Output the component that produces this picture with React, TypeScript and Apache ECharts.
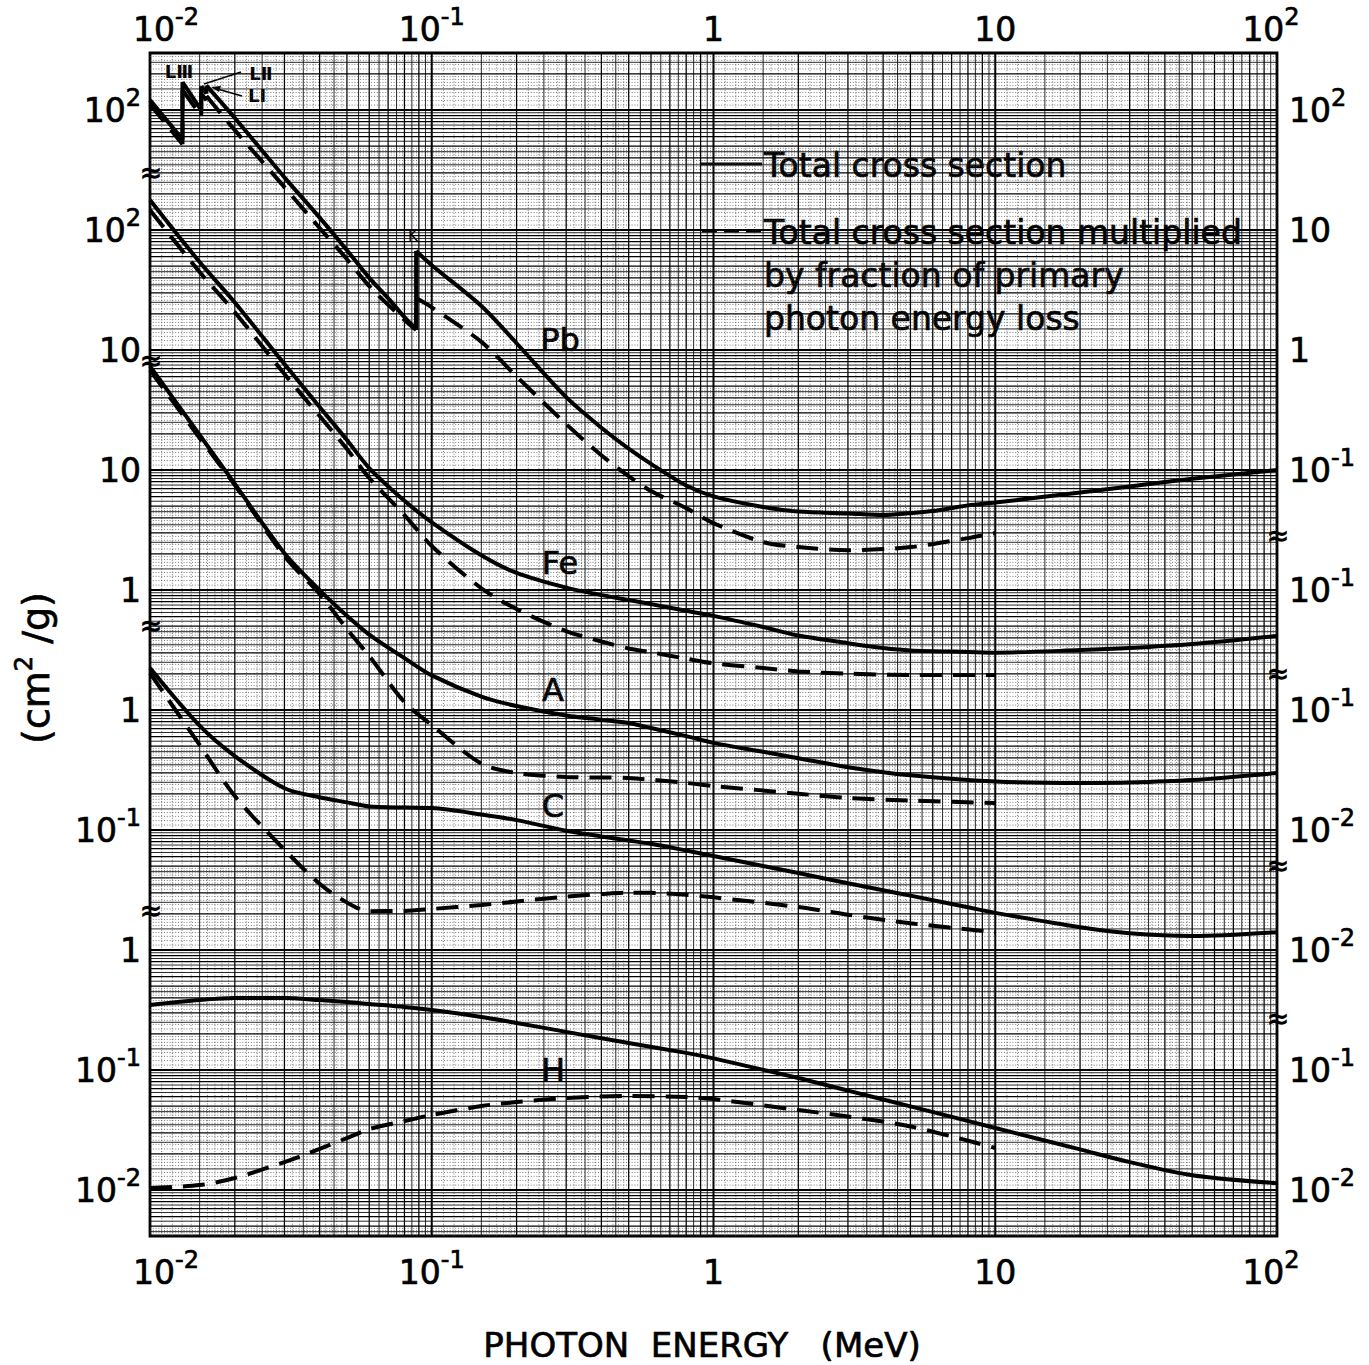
import React, { useEffect, useRef } from 'react';
import * as echarts from 'echarts';

type Pt = [number, number];

// Total cross section (cm²/g) against photon energy (MeV).
// A repeated energy marks an absorption edge (value below, then above).
const pbTotal: Pt[] = [
  [0.01, 121], [0.01304, 57], [0.01304, 171], [0.0152, 100], [0.0152, 158],
  [0.01586, 137], [0.01586, 160], [0.02, 86], [0.03, 27.5], [0.04, 12.7],
  [0.05, 6.8], [0.06, 4.0], [0.07, 2.71], [0.08, 1.88], [0.088, 1.5], [0.088, 6.7],
  [0.1, 5.1], [0.15, 2.33], [0.2, 1.14], [0.3, 0.405], [0.4, 0.2255],
  [0.5, 0.151], [0.6, 0.1127], [0.8, 0.0743], [1, 0.0604], [1.5, 0.0492], [2, 0.0451],
  [3, 0.0435], [4, 0.0422], [5, 0.0438], [6, 0.0455], [8, 0.0508], [10, 0.0536],
  [20, 0.065], [30, 0.0731], [50, 0.0845], [100, 0.1],
];
// Total cross section multiplied by the fraction of primary photon energy lost
const pbAbsorbed: Pt[] = [
  [0.01, 112], [0.01304, 52], [0.01304, 147], [0.0152, 89], [0.0152, 136],
  [0.01586, 121], [0.01586, 131], [0.02, 68], [0.03, 22.8], [0.04, 10.4],
  [0.05, 5.72], [0.06, 3.41], [0.08, 1.78], [0.088, 1.47], [0.088, 2.71],
  [0.1, 2.27], [0.15, 1.17], [0.2, 0.603], [0.3, 0.2415], [0.4, 0.133], [0.5, 0.089],
  [0.6, 0.0668], [0.8, 0.0482], [1, 0.0361], [1.5, 0.0251], [2, 0.0228], [3, 0.0215],
  [5, 0.0228], [8, 0.0271], [10, 0.0299],
];

const feTotal: Pt[] = [
  [0.01, 178], [0.015, 54.1], [0.02, 24.9], [0.03, 7.64], [0.04, 3.35], [0.05, 1.78],
  [0.06, 1.04], [0.08, 0.555], [0.1, 0.367], [0.15, 0.195], [0.2, 0.139], [0.3, 0.1047],
  [0.4, 0.0908], [0.5, 0.0826], [0.6, 0.0764], [0.8, 0.0672], [1, 0.0609], [1.5, 0.0492],
  [2, 0.0418], [3, 0.0361], [4, 0.0329], [5, 0.0314], [8, 0.0305], [10, 0.0301],
  [20, 0.0316], [30, 0.0329], [50, 0.0355], [100, 0.0414],
];
const feAbsorbed: Pt[] = [
  [0.01, 146.8], [0.015, 44.7], [0.02, 20.7], [0.03, 6.31], [0.04, 2.82], [0.05, 1.5],
  [0.06, 0.858], [0.08, 0.422], [0.1, 0.233], [0.15, 0.1035], [0.2, 0.0695], [0.3, 0.0455],
  [0.4, 0.0373], [0.5, 0.0326], [0.6, 0.0303], [0.8, 0.0268], [1, 0.0245], [1.5, 0.0224],
  [2, 0.021], [3, 0.0201], [5, 0.0196], [10, 0.0196],
];

const aTotal: Pt[] = [
  [0.01, 73.6], [0.015, 19.6], [0.02, 7.67], [0.03, 2.03], [0.04, 1.0], [0.05, 0.611],
  [0.06, 0.426], [0.08, 0.271], [0.1, 0.1945], [0.15, 0.1294], [0.2, 0.108], [0.3, 0.0902],
  [0.4, 0.083], [0.5, 0.078], [0.6, 0.0708], [0.8, 0.0607], [1, 0.0533], [1.5, 0.0449],
  [2, 0.0397], [3, 0.0334], [5, 0.0286], [10, 0.0254], [20, 0.0247], [30, 0.0249],
  [50, 0.0261], [100, 0.0299],
];
const aAbsorbed: Pt[] = [
  [0.01, 68.1], [0.015, 18.5], [0.02, 7.5], [0.03, 1.92], [0.04, 0.926], [0.05, 0.473],
  [0.06, 0.282], [0.08, 0.1166], [0.1, 0.075], [0.15, 0.0358], [0.2, 0.0299], [0.3, 0.0277],
  [0.5, 0.0271], [0.8, 0.0247], [1, 0.0233], [2, 0.0201], [3, 0.0185], [5, 0.0176],
  [10, 0.0168],
];

const cTotal: Pt[] = [
  [0.01, 2.24], [0.015, 0.741], [0.02, 0.414], [0.03, 0.223], [0.04, 0.1875], [0.05, 0.17],
  [0.06, 0.157], [0.08, 0.154], [0.1, 0.1525], [0.15, 0.135], [0.2, 0.121], [0.3, 0.0986],
  [0.4, 0.0885], [0.5, 0.0818], [0.6, 0.0769], [0.8, 0.0675], [1, 0.0607], [1.5, 0.0501],
  [2, 0.0438], [3, 0.036], [4, 0.0315], [5, 0.0284], [8, 0.0227], [10, 0.0204],
  [20, 0.0155], [30, 0.0138], [50, 0.0131], [100, 0.0141],
];
const cAbsorbed: Pt[] = [
  [0.01, 2.03], [0.015, 0.513], [0.02, 0.192], [0.03, 0.0686], [0.04, 0.0357], [0.05, 0.0249],
  [0.06, 0.0211], [0.08, 0.0212], [0.1, 0.022], [0.15, 0.0237], [0.2, 0.0254], [0.3, 0.0279],
  [0.4, 0.0293], [0.5, 0.0301], [0.6, 0.03], [0.8, 0.0289], [1, 0.0275], [2, 0.0228],
  [3, 0.0197], [5, 0.0167], [10, 0.0141],
];

const hTotal: Pt[] = [
  [0.01, 0.348], [0.015, 0.383], [0.02, 0.398], [0.03, 0.398], [0.04, 0.383], [0.05, 0.369],
  [0.06, 0.355], [0.08, 0.335], [0.1, 0.316], [0.15, 0.277], [0.2, 0.247], [0.3, 0.208],
  [0.5, 0.168], [0.8, 0.139], [1, 0.125], [2, 0.0858], [3, 0.0673], [5, 0.0498],
  [10, 0.0329], [20, 0.0218], [30, 0.0171], [50, 0.0133], [100, 0.0114],
];
const hAbsorbed: Pt[] = [
  [0.01, 0.0104], [0.015, 0.011], [0.02, 0.0126], [0.03, 0.0171], [0.04, 0.022], [0.05, 0.0271],
  [0.06, 0.0322], [0.08, 0.0376], [0.1, 0.0422], [0.15, 0.0501], [0.2, 0.0541], [0.3, 0.0585],
  [0.5, 0.0607], [0.8, 0.0596], [1, 0.0573], [2, 0.0464], [3, 0.041], [5, 0.0339], [10, 0.0224],
];

// Each element sits on its own stacked scale: plotted value = cross section × factor
const SCALE = { Pb: 1e5, Fe: 1e4, A: 1e3, C: 1e2, H: 1 };

// Axis ranges (energy in MeV; vertical axis in stacked-scale units)
const E_MIN = 0.01;
const E_MAX = 100;
const V_MIN = 4.14e-3;
const V_MAX = 2.99e7;

// Tick labels ('a^b' means a with superscript b)
const energyTicks = [0.01, 0.1, 1, 10, 100];
const energyTickLabels = ['10^-2', '10^-1', '1', '10', '10^2'];
const scaleDecades = [1e-2, 1e-1, 1, 10, 100, 1e3, 1e4, 1e5, 1e6, 1e7];
const leftScaleLabels = ['10^-2', '10^-1', '1', '10^-1', '1', '1', '10', '10', '10^2', '10^2'];
const rightScaleLabels = ['10^-2', '10^-1', '10^-2', '10^-2', '10^-1', '10^-1', '10^-1', '1', '10', '10^2'];
// Scale breaks between the stacked element scales
const leftBreaks = [2.99e6, 8.26e4, 510, 2.15];
const rightBreaks = [2870, 203, 5.1, 0.271];

// Horizontal nudge of the energy labels at the two ends of the axis (px)
const ENERGY_LABEL_NUDGE = [16, 0, 0, 0, -6];

const FONT = '"DejaVu Sans", "Liberation Sans", sans-serif';
// a thin outline thickens the lettering a little
const INK = { stroke: '#000', lineWidth: 0.7 };

function toRich(label: string): string {
  const [base, exp] = label.split('^');
  return exp ? `{b|${base}}{s|${exp}}` : `{b|${base}}`;
}

const tickRich = {
  b: { fontFamily: FONT, fontSize: 33, lineHeight: 48, fill: '#000', ...INK, verticalAlign: 'middle' },
  s: { fontFamily: FONT, fontSize: 24, lineHeight: 24, fill: '#000', ...INK, verticalAlign: 'top' },
};

// Log graph paper: mantissa positions within a decade and their line weight
function decadeMarks(): [number, number][] {
  const marks: [number, number][] = [[1, 0]];
  for (let t = 11; t < 20; t++) marks.push([t / 10, t === 15 ? 2 : 3]);
  for (let t = 20; t < 50; t += 2) marks.push([t / 10, t % 10 === 0 ? 1 : 3]);
  marks.push([2.5, 2], [3.5, 2], [4.5, 2]);
  for (let t = 50; t < 100; t += 5) marks.push([t / 10, t % 10 === 0 ? 1 : 2]);
  return marks;
}

function buildPaper(): number[][] {
  const lines: number[][] = [];
  const marks = decadeMarks();
  for (let d = -2; d <= 1; d++) {
    for (const [m, lvl] of marks) {
      const x = m * Math.pow(10, d);
      lines.push([x, V_MIN, x, V_MAX, lvl]);
    }
  }
  lines.push([E_MAX, V_MIN, E_MAX, V_MAX, 0]);
  for (let d = -3; d <= 7; d++) {
    for (const [m, lvl] of marks) {
      const y = m * Math.pow(10, d);
      if (y > V_MIN * 1.0001 && y < V_MAX * 0.9999) lines.push([E_MIN, y, E_MAX, y, lvl]);
    }
  }
  return lines;
}

const paperStyles = [
  { stroke: '#000', lineWidth: 2.0 },
  { stroke: '#000', lineWidth: 1.25 },
  { stroke: '#111', lineWidth: 0.9 },
  { stroke: '#444', lineWidth: 0.7, lineDash: [1, 1.8] },
];

// Split a curve at absorption edges so each smooth run stays monotone in energy
function runs(points: Pt[]): Pt[][] {
  const out: Pt[][] = [];
  let cur: Pt[] = [points[0]];
  for (let i = 1; i < points.length; i++) {
    const p = points[i];
    const q = points[i - 1];
    if (p[0] === q[0]) {
      out.push(cur);
      out.push([q, p]);
      cur = [p];
    } else {
      cur.push(p);
    }
  }
  out.push(cur);
  return out;
}

const curves = [
  { name: 'Pb total', pts: pbTotal, factor: SCALE.Pb, dashed: false },
  { name: 'Pb absorbed', pts: pbAbsorbed, factor: SCALE.Pb, dashed: true },
  { name: 'Fe total', pts: feTotal, factor: SCALE.Fe, dashed: false },
  { name: 'Fe absorbed', pts: feAbsorbed, factor: SCALE.Fe, dashed: true },
  { name: 'A total', pts: aTotal, factor: SCALE.A, dashed: false },
  { name: 'A absorbed', pts: aAbsorbed, factor: SCALE.A, dashed: true },
  { name: 'C total', pts: cTotal, factor: SCALE.C, dashed: false },
  { name: 'C absorbed', pts: cAbsorbed, factor: SCALE.C, dashed: true },
  { name: 'H total', pts: hTotal, factor: SCALE.H, dashed: false },
  { name: 'H absorbed', pts: hAbsorbed, factor: SCALE.H, dashed: true },
];

type AxisText = { value: [number, number]; side: string; text: string; dx: number };

function buildAxisTexts(): AxisText[] {
  const items: AxisText[] = [];
  energyTicks.forEach((e, i) => {
    const dx = ENERGY_LABEL_NUDGE[i];
    items.push({ value: [e, V_MAX], side: 'top', text: energyTickLabels[i], dx });
    items.push({ value: [e, V_MIN], side: 'bottom', text: energyTickLabels[i], dx });
  });
  scaleDecades.forEach((v, i) => {
    items.push({ value: [E_MIN, v], side: 'left', text: leftScaleLabels[i], dx: 0 });
    items.push({ value: [E_MAX, v], side: 'right', text: rightScaleLabels[i], dx: 0 });
  });
  leftBreaks.forEach((v) => items.push({ value: [E_MIN, v], side: 'break', text: '≈', dx: 0 }));
  rightBreaks.forEach((v) => items.push({ value: [E_MAX, v], side: 'break', text: '≈', dx: 0 }));
  return items;
}

function textStyle(text: string, font: string, align = 'left', extra: any = {}) {
  return {
    text,
    font,
    fill: '#000',
    align,
    verticalAlign: 'middle',
    textAlign: align,
    textVerticalAlign: 'middle',
    ...extra,
  };
}

export default function App() {
  const ref = useRef<HTMLDivElement>(null);

  useEffect(() => {
    if (!ref.current) return;
    const chart = echarts.init(ref.current, undefined, { renderer: 'svg' });
    const paper = buildPaper();
    const axisTexts = buildAxisTexts();

    const curveSeries = curves.flatMap((c) =>
      runs(c.pts).map((run, i) => ({
        type: 'line',
        name: c.name,
        id: `${c.name}-${i}`,
        data: run.map(([e, v]) => [e, v * c.factor]),
        symbol: 'none',
        smooth: run.length > 2 ? 0.3 : false,
        silent: true,
        z: 3,
        lineStyle: {
          color: '#000',
          width: 4,
          type: c.dashed ? [22, 11] : 'solid',
        },
      }))
    );

    const legendText = (text: string, y: number) => ({
      type: 'text',
      x: 764,
      y,
      style: textStyle(text, `33px ${FONT}`, 'left', INK),
    });
    const elementLabel = (text: string, x: number, y: number) => ({
      type: 'text',
      x,
      y,
      style: textStyle(text, `32px ${FONT}`, 'center', INK),
    });

    const option: any = {
      animation: false,
      backgroundColor: '#fff',
      grid: {
        left: 150,
        top: 53,
        width: 1127,
        height: 1183,
        show: true,
        borderColor: '#000',
        borderWidth: 2.8,
        backgroundColor: 'transparent',
      },
      xAxis: {
        type: 'log',
        logBase: 10,
        min: E_MIN,
        max: E_MAX,
        axisLine: { show: false },
        axisTick: { show: false },
        axisLabel: { show: false },
        splitLine: { show: false },
      },
      yAxis: {
        type: 'log',
        logBase: 10,
        min: V_MIN,
        max: V_MAX,
        axisLine: { show: false },
        axisTick: { show: false },
        axisLabel: { show: false },
        splitLine: { show: false },
      },
      series: [
        {
          type: 'custom',
          name: 'paper',
          silent: true,
          clip: true,
          z: 1,
          encode: { x: [0, 2], y: [1, 3] },
          data: paper,
          renderItem: (_params: any, api: any) => {
            const a = api.coord([api.value(0), api.value(1)]);
            const b = api.coord([api.value(2), api.value(3)]);
            const s = paperStyles[api.value(4)];
            return {
              type: 'line',
              shape: { x1: a[0], y1: a[1], x2: b[0], y2: b[1] },
              style: { fill: null, ...s },
            };
          },
        },
        ...curveSeries,
        {
          type: 'custom',
          name: 'scale labels',
          silent: true,
          clip: false,
          z: 5,
          data: axisTexts.map((t) => t.value),
          renderItem: (params: any, api: any) => {
            const item = axisTexts[params.dataIndex];
            const p = api.coord(item.value);
            const rich = toRich(item.text);
            if (item.side === 'top' || item.side === 'bottom') {
              return {
                type: 'text',
                x: p[0] + item.dx,
                y: item.side === 'top' ? p[1] - 24 : p[1] + 36,
                style: textStyle(rich, `33px ${FONT}`, 'center', { rich: tickRich }),
              };
            }
            if (item.side === 'left') {
              return {
                type: 'text',
                x: p[0] - 9,
                y: p[1],
                style: textStyle(rich, `33px ${FONT}`, 'right', { rich: tickRich }),
              };
            }
            if (item.side === 'right') {
              return {
                type: 'group',
                children: [
                  {
                    type: 'line',
                    shape: { x1: p[0] - 16, y1: p[1], x2: p[0], y2: p[1] },
                    style: { stroke: '#000', lineWidth: 1.8 },
                  },
                  {
                    type: 'text',
                    x: p[0] + 12,
                    y: p[1],
                    style: textStyle(rich, `33px ${FONT}`, 'left', { rich: tickRich }),
                  },
                ],
              };
            }
            return {
              type: 'text',
              x: p[0] + 1,
              y: p[1],
              style: textStyle('≈', `bold 28px ${FONT}`, 'center'),
            };
          },
        },
      ],
      graphic: {
        elements: [
          // legend
          {
            type: 'line',
            shape: { x1: 700, y1: 164, x2: 762, y2: 164 },
            style: { stroke: '#000', lineWidth: 3.2 },
          },
          legendText('Total cross section', 165),
          {
            type: 'line',
            shape: { x1: 702, y1: 231, x2: 762, y2: 231 },
            style: { stroke: '#000', lineWidth: 3.2, lineDash: [15, 7] },
          },
          legendText('Total cross section multiplied', 232),
          legendText('by fraction of primary', 275),
          legendText('photon energy loss', 318),
          // element labels
          elementLabel('Pb', 560, 340),
          elementLabel('Fe', 560, 563),
          elementLabel('A', 553, 690),
          elementLabel('C', 553, 806),
          elementLabel('H', 553, 1070),
          // absorption edge notes
          { type: 'text', x: 413, y: 236, style: textStyle('K', `15px ${FONT}`, 'center') },
          { type: 'text', x: 179, y: 71, style: textStyle('LⅢ', `bold 18px ${FONT}`, 'center') },
          { type: 'text', x: 261, y: 73, style: textStyle('LⅡ', `bold 18px ${FONT}`, 'center') },
          { type: 'text', x: 257, y: 95, style: textStyle('LⅠ', `bold 18px ${FONT}`, 'center') },
          {
            type: 'line',
            shape: { x1: 204, y1: 84, x2: 241, y2: 72 },
            style: { stroke: '#000', lineWidth: 1.6 },
          },
          {
            type: 'line',
            shape: { x1: 214, y1: 88, x2: 242, y2: 96 },
            style: { stroke: '#000', lineWidth: 1.6 },
          },
          {
            type: 'polygon',
            shape: { points: [[211, 87], [221, 86], [219, 92]] },
            style: { fill: '#000' },
          },
          // axis titles
          {
            type: 'text',
            x: 702,
            y: 1345,
            style: textStyle('PHOTON  ENERGY   (MeV)', `34px ${FONT}`, 'center', INK),
          },
          {
            type: 'text',
            x: 36,
            y: 668,
            rotation: Math.PI / 2,
            style: textStyle('{b|(cm}{s|2}{b| /g)}', `38px ${FONT}`, 'center', {
              rich: {
                b: { fontFamily: FONT, fontSize: 38, lineHeight: 48, fill: '#000', ...INK },
                s: { fontFamily: FONT, fontSize: 24, lineHeight: 24, fill: '#000', ...INK, verticalAlign: 'top' },
              },
            }),
          },
        ],
      },
    };

    chart.setOption(option);
    return () => chart.dispose();
  }, []);

  return (
    <div
      ref={ref}
      style={{ position: 'absolute', left: 0, top: 0, width: 1369, height: 1365, background: '#fff' }}
    />
  );
}
